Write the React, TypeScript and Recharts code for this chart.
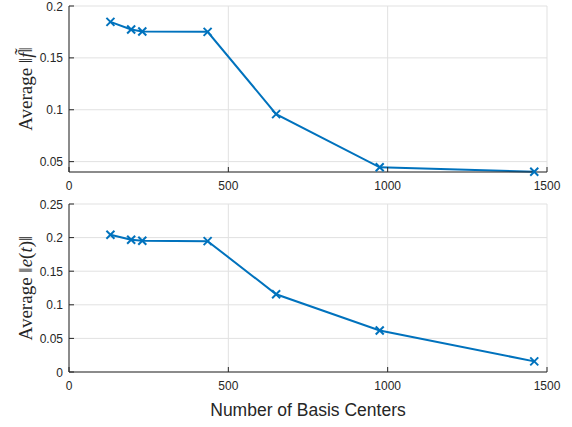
import React from "react";
import { LineChart, Line, XAxis, YAxis, CartesianGrid } from "recharts";

// number of basis centers
const centers = [130, 195, 230, 435, 650, 975, 1460];
// average ||f~||
const fNorm = [0.1847, 0.1773, 0.1755, 0.1751, 0.0958, 0.0445, 0.0403];
// average ||e(t)||
const eNorm = [0.2042, 0.1967, 0.1952, 0.1947, 0.1157, 0.0617, 0.0158];

const xTicks = [0, 500, 1000, 1500];
const fTicks = [0.05, 0.1, 0.15, 0.2];
const eTicks = [0, 0.05, 0.1, 0.15, 0.2, 0.25];

const BLUE = "#0072BD";
const AXIS = "#262626";
const GRID = "#e1e1e1";
const SANS = "'Liberation Sans', Arial, Helvetica, sans-serif";
const SERIF = "'Liberation Serif', 'Times New Roman', serif";

const topData = centers.map((c, i) => ({ n: c, v: fNorm[i] }));
const bottomData = centers.map((c, i) => ({ n: c, v: eNorm[i] }));

const XMark = (props: any) => {
  const { cx, cy } = props;
  if (cx == null || cy == null) return null;
  const s = 4;
  return (
    <g stroke={BLUE} strokeWidth={2}>
      <line x1={cx - s} y1={cy - s} x2={cx + s} y2={cy + s} />
      <line x1={cx - s} y1={cy + s} x2={cx + s} y2={cy - s} />
    </g>
  );
};

// tickSize/tickMargin are 0, so x,y sit on the axis line
const XTick = (props: any) => {
  const { x, y, payload } = props;
  return (
    <g>
      <line x1={x} x2={x} y1={y} y2={y - 5} stroke={AXIS} />
      <text x={x} y={y + 18} textAnchor="middle" fill={AXIS} fontSize={12} fontFamily={SANS}>
        {payload.value}
      </text>
    </g>
  );
};

const YTick = (props: any) => {
  const { x, y, payload } = props;
  return (
    <g>
      <line x1={x} x2={x + 5} y1={y} y2={y} stroke={AXIS} />
      <text x={x - 6} y={y + 4.5} textAnchor="end" fill={AXIS} fontSize={12} fontFamily={SANS}>
        {payload.value}
      </text>
    </g>
  );
};

const yLabel = (kind: "f" | "e") => (props: any) => {
  const vb = props.viewBox || {};
  const cx = 25;
  const cy = vb.y + vb.height / 2;
  return (
    <text
      x={cx}
      y={cy}
      transform={`rotate(-90 ${cx} ${cy})`}
      textAnchor="middle"
      dominantBaseline="central"
      fill={AXIS}
      fontSize={19}
      fontFamily={SERIF}
    >
      <tspan>Average </tspan>
      <tspan>‖</tspan>
      {kind === "f" ? (
        <tspan fontStyle="italic">f̃</tspan>
      ) : (
        <>
          <tspan fontStyle="italic">e</tspan>
          <tspan>(</tspan>
          <tspan fontStyle="italic">t</tspan>
          <tspan>)</tspan>
        </>
      )}
      <tspan>‖</tspan>
    </text>
  );
};

const xLabel = (props: any) => {
  const vb = props.viewBox || {};
  return (
    <text
      x={vb.x + vb.width / 2}
      y={vb.y + 44}
      textAnchor="middle"
      fill={AXIS}
      fontSize={17.5}
      fontFamily={SANS}
    >
      Number of Basis Centers
    </text>
  );
};

export default function App() {
  return (
    <div style={{ position: "absolute", left: 0, top: 0, width: 572, height: 427, background: "#fff" }}>
      <LineChart width={572} height={195} data={topData} margin={{ top: 6, right: 25, bottom: 0, left: 0 }}>
        <CartesianGrid stroke={GRID} />
        <XAxis
          dataKey="n"
          type="number"
          domain={[0, 1500]}
          ticks={xTicks}
          height={23}
          stroke={AXIS}
          tickLine={false}
          tickSize={0}
          tickMargin={0}
          tick={<XTick />}
          interval={0}
        />
        <YAxis
          type="number"
          domain={[0.04, 0.2]}
          ticks={fTicks}
          width={69}
          stroke={AXIS}
          tickLine={false}
          tickSize={0}
          tickMargin={0}
          tick={<YTick />}
          interval={0}
          label={yLabel("f")}
        />
        <Line
          dataKey="v"
          stroke={BLUE}
          strokeWidth={2}
          dot={<XMark />}
          activeDot={false}
          isAnimationActive={false}
        />
      </LineChart>
      <LineChart width={572} height={232} data={bottomData} margin={{ top: 9, right: 25, bottom: 0, left: 0 }}>
        <CartesianGrid stroke={GRID} />
        <XAxis
          dataKey="n"
          type="number"
          domain={[0, 1500]}
          ticks={xTicks}
          height={55}
          stroke={AXIS}
          tickLine={false}
          tickSize={0}
          tickMargin={0}
          tick={<XTick />}
          interval={0}
          label={xLabel}
        />
        <YAxis
          type="number"
          domain={[0, 0.25]}
          ticks={eTicks}
          width={69}
          stroke={AXIS}
          tickLine={false}
          tickSize={0}
          tickMargin={0}
          tick={<YTick />}
          interval={0}
          label={yLabel("e")}
        />
        <Line
          dataKey="v"
          stroke={BLUE}
          strokeWidth={2}
          dot={<XMark />}
          activeDot={false}
          isAnimationActive={false}
        />
      </LineChart>
    </div>
  );
}
